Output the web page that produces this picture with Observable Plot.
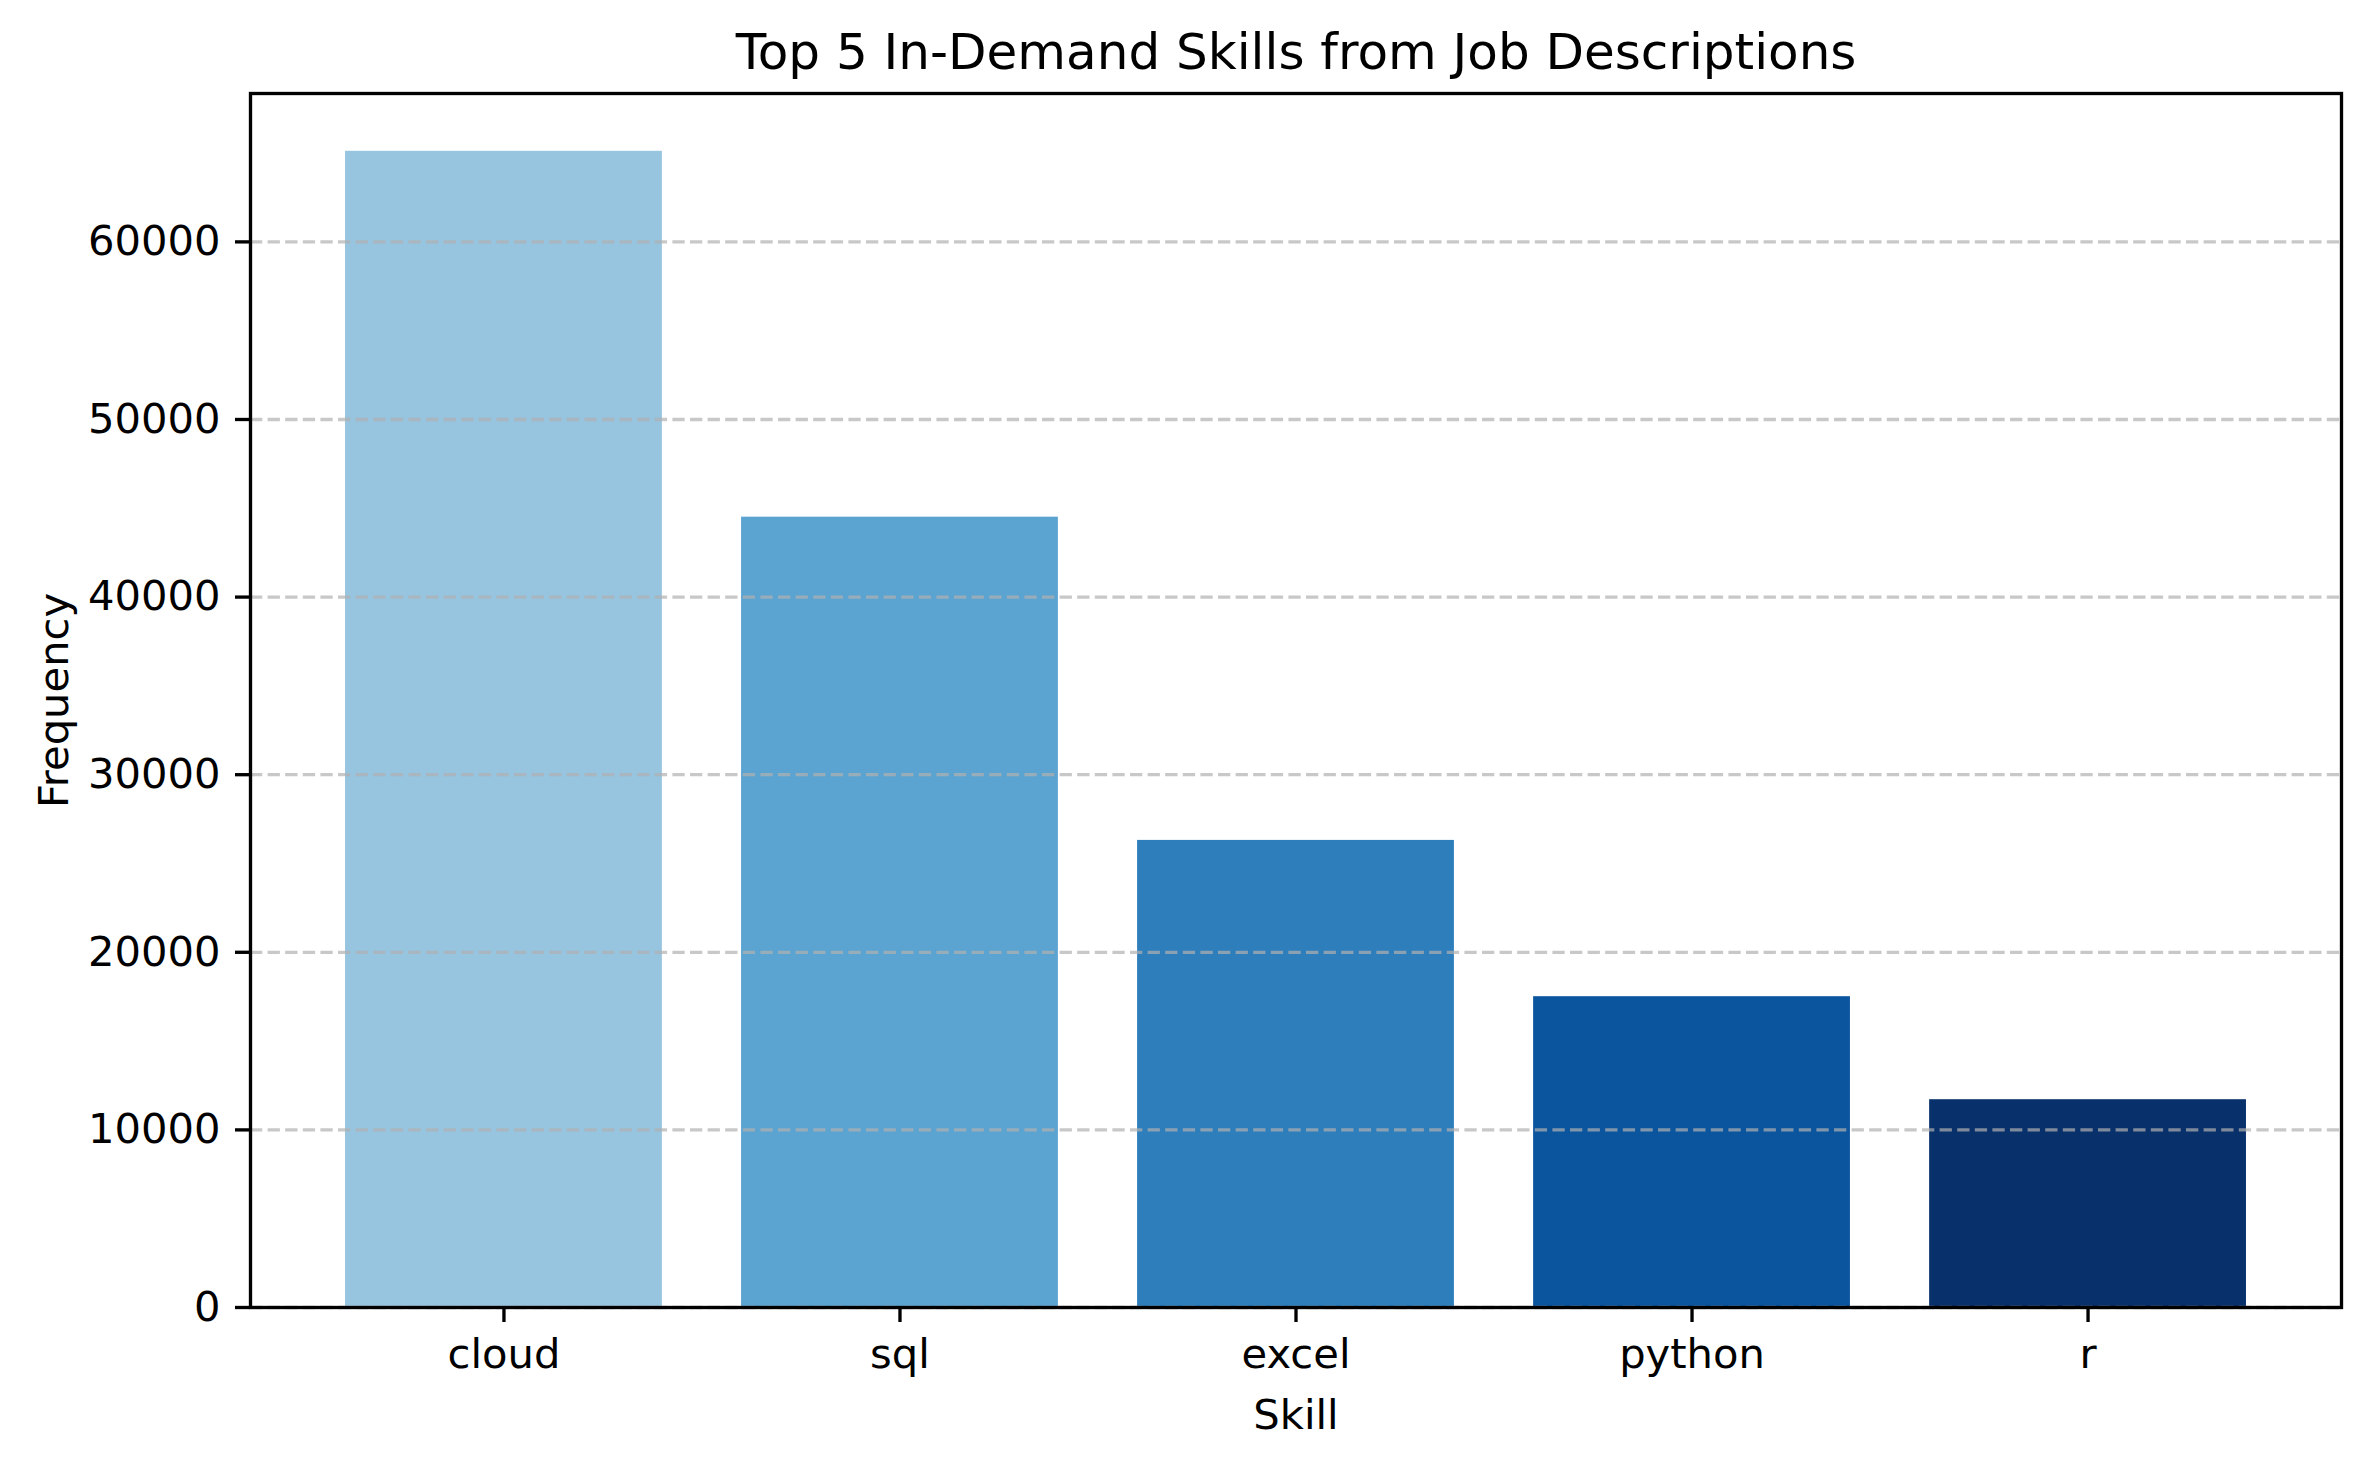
<!DOCTYPE html>
<html><head><meta charset="utf-8">
<script src="https://cdn.jsdelivr.net/npm/d3@7"></script>
<script src="https://cdn.jsdelivr.net/npm/@observablehq/plot@0.6"></script>
<style>html,body{margin:0;padding:0;background:#fff;} #chart svg{display:block;}</style>
</head><body><div id="chart"></div>
<script>
const skills = ["cloud", "sql", "excel", "python", "r"];
const frequencies = [65100, 44500, 26300, 17500, 11700];
const barColors = ["#97c4df", "#5ba3d0", "#2f7ebc", "#0b559f", "#08306b"];
const yTicks = [0, 10000, 20000, 30000, 40000, 50000, 60000];
const titleText = "Top 5 In-Demand Skills from Job Descriptions";
const xLabel = "Skill";
const yLabel = "Frequency";

const data = skills.map((s, i) => ({skill: s, frequency: frequencies[i], color: barColors[i]}));
const W = 2371, H = 1466, mL = 250, mR = 30, mT = 93, mB = 159;
const fs = 41.67;
const yMax = d3.max(frequencies) * 1.05;

const chart = Plot.plot({
  width: W, height: H, marginLeft: mL, marginRight: mR, marginTop: mT, marginBottom: mB,
  style: {fontFamily: "'DejaVu Sans', sans-serif", background: "#fff", color: "#000", overflow: "visible"},
  x: {type: "band", domain: skills, paddingInner: 0.2, paddingOuter: 0.24, align: 0.5, round: false},
  y: {domain: [0, yMax]},
  color: {type: "identity"},
  marks: [
    Plot.barY(data, {x: "skill", y: "frequency", fill: "color"}),
    Plot.gridY(yTicks, {stroke: "#b0b0b0", strokeOpacity: 0.7, strokeWidth: 3.33, strokeDasharray: "12.3,5.3"}),
    Plot.frame({stroke: "#000", strokeWidth: 3.33}),
    Plot.axisY(yTicks, {tickSize: 15, tickPadding: 15, fontSize: fs, strokeWidth: 3.33, tickFormat: d => String(d), label: null}),
    Plot.axisX({tickSize: 15, tickPadding: 16, fontSize: fs, strokeWidth: 3.33, label: null}),
    Plot.text([titleText], {frameAnchor: "top", lineAnchor: "middle", text: d => d, fontSize: 50, dy: -41, fill: "#000"}),
    Plot.text([xLabel], {frameAnchor: "bottom", lineAnchor: "middle", text: d => d, fontSize: fs, dy: 107.7, fill: "#000"}),
    Plot.text([yLabel], {frameAnchor: "left", textAnchor: "middle", lineAnchor: "middle", text: d => d, fontSize: fs, rotate: -90, dx: -196.3, fill: "#000"})
  ]
});
document.getElementById("chart").appendChild(chart);
</script>
</body></html>
